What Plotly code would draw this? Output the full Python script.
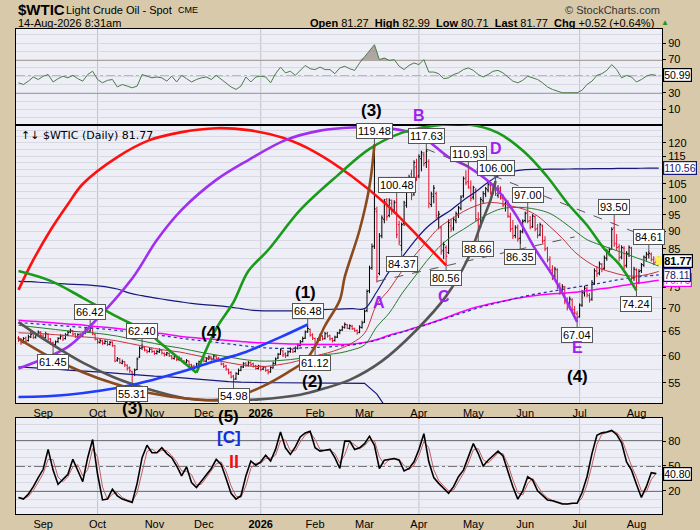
import numpy as np
import pandas as pd
import plotly.graph_objects as go
from plotly.subplots import make_subplots

# 52 weeks of trading days, 18-Aug-2025 .. 14-Aug-2026
days = pd.bdate_range("2025-08-18", "2026-08-14")
week_starts = days[::5]

# daily bars, one row per week (Mon..Fri)
opens = [
    63.6, 63.3, 62.7, 63.6, 63.1,   # Aug 18
    63.8, 64.5, 63.8, 64.3, 64.9,   # Aug 25
    64.0, 63.7, 64.4, 63.4, 62.6,   # Sep 1
    62.3, 62.9, 63.6, 64.1, 63.5,   # Sep 8
    64.3, 64.9, 65.1, 64.5, 63.8,   # Sep 15
    64.4, 64.0, 64.6, 65.4, 65.1,   # Sep 22
    65.6, 64.4, 63.3, 62.7, 63.0,   # Sep 29
    62.5, 62.9, 62.3, 62.8, 62.0,   # Oct 6
    59.2, 59.4, 58.6, 58.9, 58.2,   # Oct 13
    57.8, 57.0, 56.5, 57.4, 59.8,   # Oct 20
    61.6, 61.7, 61.1, 60.9, 61.4,   # Oct 27
    60.9, 60.5, 60.8, 61.1, 60.5,   # Nov 3
    60.3, 60.5, 60.0, 59.5, 59.8,   # Nov 10
    59.3, 59.5, 59.0, 58.8, 59.0,   # Nov 17
    58.3, 58.1, 57.9, 58.4, 58.8,   # Nov 24
    59.4, 59.0, 59.4, 59.8, 59.4,   # Dec 1
    60.0, 59.6, 59.2, 58.5, 58.1,   # Dec 8
    57.4, 56.9, 56.2, 55.7, 56.6,   # Dec 15
    57.3, 57.9, 58.6, 58.2, 58.8,   # Dec 22
    58.5, 58.1, 57.6, 58.0, 57.5,   # Dec 29
    57.8, 57.3, 57.0, 57.7, 58.5,   # Jan 5
    59.6, 60.4, 61.0, 60.4, 60.1,   # Jan 12
    60.9, 61.3, 60.9, 61.5, 62.1,   # Jan 19
    62.9, 63.6, 65.0, 65.4, 64.3,   # Jan 26
    63.5, 62.5, 63.2, 64.0, 63.5,   # Feb 2
    64.6, 64.1, 63.5, 63.1, 63.8,   # Feb 9
    64.7, 65.3, 65.8, 66.4, 65.6,   # Feb 16
    66.1, 65.5, 65.2, 64.8, 65.8,   # Feb 23
    67.0, 69.6, 74.2, 80.0, 85.8,   # Mar 2
    96.0, 78.5, 88.8, 93.6, 99.8,   # Mar 9
    94.8, 98.6, 96.4, 99.0, 92.0,   # Mar 16
    86.0, 92.4, 98.0, 103.2, 108.5,  # Mar 23
    101.6, 111.0, 107.8, 114.0, 115.4,  # Mar 30
    112.6, 113.0, 98.2, 100.8, 101.8,  # Apr 6
    94.2, 91.0, 84.6, 85.4, 84.0,   # Apr 13
    91.6, 91.0, 93.2, 95.0, 97.0,   # Apr 20
    101.0, 107.0, 105.8, 103.6, 100.6,  # Apr 27
    103.0, 93.4, 91.6, 99.4, 101.6,  # May 4
    103.0, 104.4, 102.4, 104.8, 101.2,  # May 11
    103.6, 100.2, 98.4, 99.0, 94.4,  # May 18
    90.8, 88.8, 91.0, 88.0, 90.0,   # May 25
    93.2, 95.6, 93.2, 91.4, 94.4,   # Jun 1
    90.8, 89.0, 91.6, 87.4, 85.2,   # Jun 8
    82.2, 79.4, 77.8, 79.4, 75.4,   # Jun 15
    74.0, 75.0, 71.8, 70.4, 72.0,   # Jun 22
    69.8, 68.8, 68.2, 70.8, 73.6,   # Jun 29
    74.6, 73.0, 72.2, 76.0, 79.0,   # Jul 6
    78.6, 80.8, 79.8, 82.4, 84.2,   # Jul 13
    85.0, 91.0, 86.4, 85.6, 82.8,   # Jul 20
    85.2, 80.6, 83.6, 85.2, 77.4,   # Jul 27
    79.4, 76.2, 79.2, 80.6, 82.6,   # Aug 3
    83.4, 83.6, 82.2, 81.4, 81.27,  # Aug 10
]
highs = [
    64.0, 63.6, 63.8, 63.9, 64.3,
    64.9, 64.7, 64.5, 65.2, 65.0,
    64.4, 64.9, 64.6, 63.6, 62.9,
    63.1, 63.8, 64.4, 64.3, 64.6,
    65.2, 65.6, 65.3, 64.7, 64.6,
    64.7, 64.9, 65.7, 65.6, 66.42,
    65.8, 64.6, 63.5, 63.4, 63.2,
    63.3, 63.1, 63.0, 62.9, 62.2,
    59.8, 59.6, 59.3, 59.0, 58.4,
    58.0, 57.2, 57.6, 59.7, 61.9,
    62.40, 61.9, 61.3, 61.6, 61.5,
    61.1, 61.2, 61.5, 61.2, 60.7,
    60.8, 60.7, 60.2, 60.1, 59.9,
    59.9, 59.7, 59.2, 59.4, 59.1,
    58.5, 58.3, 58.7, 59.1, 59.5,
    59.6, 59.8, 60.1, 59.9, 60.3,
    60.2, 59.8, 59.3, 58.7, 58.3,
    57.6, 57.1, 56.4, 56.9, 57.6,
    58.1, 58.8, 58.8, 59.0, 58.9,
    58.7, 58.3, 58.3, 58.2, 58.1,
    58.0, 57.5, 58.0, 58.9, 59.7,
    60.6, 61.5, 61.2, 60.7, 61.1,
    61.7, 61.5, 61.9, 62.5, 63.2,
    63.9, 65.2, 66.48, 65.6, 64.6,
    63.7, 63.6, 64.5, 64.2, 64.9,
    64.9, 64.3, 63.7, 64.1, 64.9,
    65.5, 66.2, 66.9, 66.6, 66.5,
    66.4, 65.8, 65.4, 66.3, 67.3,
    69.8, 74.5, 80.5, 86.5, 119.48,
    97.5, 89.5, 94.8, 100.0, 100.3,
    100.2, 99.8, 99.6, 100.48, 93.2,
    92.6, 99.4, 103.6, 108.2, 110.0,
    113.4, 114.0, 115.6, 117.0, 116.6,
    117.63, 113.8, 102.4, 104.6, 102.4,
    96.2, 91.6, 87.0, 86.0, 93.6,
    93.8, 94.4, 96.0, 97.8, 101.2,
    107.6, 109.8, 110.93, 106.2, 104.4,
    103.6, 95.8, 100.6, 102.6, 104.0,
    105.6, 105.4, 105.2, 106.00, 104.6,
    104.2, 101.6, 100.2, 99.6, 95.6,
    93.4, 91.8, 92.0, 90.4, 93.6,
    96.0, 97.00, 94.6, 95.2, 94.8,
    92.2, 92.6, 92.0, 88.6, 85.6,
    83.0, 80.6, 80.2, 79.8, 76.2,
    75.8, 75.4, 72.6, 72.8, 72.4,
    70.6, 69.4, 71.2, 74.4, 75.4,
    75.2, 73.6, 76.8, 79.8, 80.4,
    81.6, 81.2, 83.2, 85.0, 85.4,
    91.2, 93.50, 89.2, 86.4, 86.0,
    85.8, 84.4, 86.0, 85.6, 80.2,
    79.8, 79.6, 81.2, 83.2, 84.2,
    84.61, 84.0, 83.0, 82.4, 82.99,
]
lows = [
    62.8, 62.2, 62.5, 62.6, 62.9,
    63.6, 63.4, 63.5, 64.0, 63.8,
    63.2, 63.5, 63.1, 62.2, 61.45,
    62.0, 62.6, 63.3, 63.0, 63.3,
    64.0, 64.6, 64.1, 63.6, 63.5,
    63.7, 63.8, 64.4, 64.7, 64.9,
    64.2, 63.1, 62.4, 62.5, 62.2,
    62.3, 62.0, 62.1, 61.8, 58.8,
    58.9, 58.5, 58.4, 57.9, 57.2,
    56.8, 55.31, 56.2, 57.3, 59.6,
    61.2, 60.9, 60.5, 60.7, 60.6,
    60.2, 60.3, 60.6, 60.3, 59.9,
    60.0, 59.8, 59.3, 59.3, 59.0,
    59.0, 58.8, 58.4, 58.6, 58.0,
    57.7, 57.3, 57.7, 58.3, 58.6,
    58.8, 58.8, 59.2, 59.1, 59.2,
    59.3, 58.9, 58.2, 57.7, 57.2,
    56.5, 55.8, 54.98, 55.5, 56.4,
    57.1, 57.7, 57.9, 58.0, 58.1,
    57.8, 57.4, 57.4, 57.1, 57.3,
    57.0, 56.5, 56.8, 57.6, 58.3,
    59.4, 60.2, 59.8, 59.6, 59.9,
    60.6, 60.6, 60.7, 61.3, 61.9,
    62.7, 63.4, 64.7, 63.9, 63.2,
    61.12, 62.2, 63.0, 63.1, 63.3,
    63.7, 63.1, 62.7, 62.9, 63.6,
    64.4, 65.1, 65.6, 65.5, 65.4,
    65.3, 64.9, 64.3, 64.6, 65.6,
    66.8, 69.2, 73.6, 79.4, 85.0,
    76.2, 78.0, 88.0, 92.4, 93.2,
    94.2, 95.0, 95.4, 88.0, 86.0,
    84.37, 91.6, 97.2, 102.4, 99.6,
    101.0, 106.0, 107.0, 109.4, 111.2,
    110.6, 97.0, 97.4, 98.6, 93.8,
    90.6, 83.4, 82.2, 80.56, 83.6,
    89.8, 90.2, 92.4, 94.0, 96.4,
    100.4, 104.6, 103.4, 99.2, 99.8,
    93.0, 88.66, 91.0, 98.6, 100.6,
    102.2, 101.4, 101.6, 101.0, 100.4,
    99.8, 97.4, 96.0, 94.0, 89.8,
    87.8, 88.0, 87.0, 86.35, 89.4,
    92.6, 92.4, 90.6, 91.0, 90.0,
    88.0, 88.6, 86.6, 84.4, 81.4,
    78.6, 76.8, 77.2, 74.6, 73.2,
    73.4, 71.0, 69.6, 69.8, 69.0,
    68.4, 67.04, 68.0, 70.4, 72.8,
    72.6, 71.4, 71.8, 75.6, 77.6,
    78.0, 78.8, 79.4, 81.8, 83.0,
    84.8, 85.6, 84.6, 81.6, 82.2,
    79.6, 80.0, 82.8, 76.4, 76.6,
    74.24, 75.8, 78.6, 80.2, 81.8,
    82.4, 81.6, 80.6, 80.8, 80.71,
]
closes = [
    63.2, 62.6, 63.5, 63.0, 63.9,
    64.4, 63.7, 64.2, 64.8, 64.1,
    63.6, 64.5, 63.4, 62.5, 62.2,
    62.8, 63.5, 64.0, 63.4, 64.2,
    64.8, 65.2, 64.4, 63.9, 64.3,
    64.0, 64.6, 65.3, 65.0, 65.8,
    64.5, 63.4, 62.8, 63.1, 62.6,
    62.9, 62.3, 62.7, 62.1, 59.0,
    59.5, 58.7, 58.9, 58.3, 57.6,
    57.2, 56.6, 57.3, 59.4, 61.5,
    61.8, 61.2, 60.8, 61.3, 60.9,
    60.5, 60.9, 61.2, 60.6, 60.2,
    60.6, 60.1, 59.6, 59.9, 59.3,
    59.6, 59.0, 58.7, 59.1, 58.3,
    58.0, 57.8, 58.5, 58.9, 59.3,
    59.0, 59.5, 59.8, 59.4, 60.0,
    59.5, 59.1, 58.4, 58.0, 57.5,
    56.8, 56.0, 55.6, 56.7, 57.2,
    57.9, 58.5, 58.2, 58.7, 58.3,
    58.0, 57.6, 58.1, 57.4, 57.9,
    57.2, 56.9, 57.8, 58.6, 59.4,
    60.3, 61.2, 60.2, 60.0, 60.8,
    61.4, 60.8, 61.6, 62.2, 62.8,
    63.5, 64.8, 65.6, 64.2, 63.6,
    62.4, 63.3, 64.1, 63.4, 64.5,
    64.0, 63.4, 63.0, 63.8, 64.6,
    65.2, 65.9, 66.5, 65.7, 66.2,
    65.6, 65.1, 64.7, 65.9, 66.8,
    69.4, 74.0, 79.8, 85.6, 96.8,
    77.6, 88.6, 94.0, 99.2, 94.4,
    99.6, 96.0, 98.8, 89.0, 87.0,
    92.0, 98.8, 102.8, 107.4, 101.0,
    112.6, 107.4, 114.8, 116.2, 112.2,
    116.8, 98.6, 101.6, 103.6, 94.8,
    95.2, 84.2, 86.2, 83.0, 92.6,
    90.6, 93.6, 95.4, 97.2, 100.6,
    106.8, 105.4, 104.0, 100.2, 103.8,
    93.8, 91.0, 99.8, 101.8, 103.4,
    104.8, 102.0, 104.6, 101.8, 103.2,
    100.4, 98.0, 99.4, 94.6, 90.6,
    88.6, 91.2, 87.8, 89.8, 93.0,
    95.4, 93.0, 91.2, 94.6, 90.6,
    88.8, 92.0, 87.2, 85.0, 82.0,
    79.2, 77.6, 79.6, 75.2, 73.8,
    75.2, 71.6, 70.2, 72.2, 69.6,
    69.0, 68.0, 70.8, 73.8, 74.8,
    73.2, 72.0, 76.2, 79.2, 78.4,
    81.0, 79.6, 82.6, 84.4, 84.8,
    90.6, 86.6, 85.4, 82.6, 85.4,
    80.4, 83.8, 85.4, 77.2, 79.6,
    76.0, 79.0, 80.8, 82.8, 83.6,
    83.8, 82.0, 81.2, 81.25, 81.77,
]

# overlays read once a week (each Monday) plus the last day
magenta_ma = [67.4, 67.2, 67.0, 66.8, 66.6, 66.4, 66.1, 65.9, 65.6, 65.3,
              65.0, 64.7, 64.4, 64.0, 63.7, 63.5, 63.3, 63.1, 62.9, 62.7,
              62.6, 62.5, 62.4, 62.3, 62.3, 62.3, 62.3, 62.4, 62.7, 63.3,
              64.2, 64.9, 65.7, 66.5, 67.4, 68.4, 69.4, 70.3, 71.0, 71.6,
              72.2, 72.7, 73.1, 73.4, 73.6, 73.8, 74.2, 74.6, 75.0, 75.5,
              76.0, 76.4, 76.76]
dotted_ma = [66.9, 66.7, 66.5, 66.3, 66.1, 65.9, 65.7, 65.5, 65.2, 64.9,
             64.6, 64.3, 64.0, 63.6, 63.3, 63.0, 62.7, 62.4, 62.1, 61.8,
             61.6, 61.5, 61.5, 61.6, 61.7, 61.8, 62.0, 62.2, 62.6, 63.2,
             64.0, 64.8, 65.6, 66.4, 67.3, 68.2, 69.1, 70.0, 70.8, 71.5,
             72.2, 72.9, 73.5, 74.0, 74.5, 75.0, 75.5, 76.0, 76.6, 77.1,
             77.6, 77.9, 78.11]
red_ma = [64.7, 64.6, 64.5, 64.3, 64.1, 63.9, 63.7, 63.4, 63.0, 62.5,
          62.0, 61.5, 61.1, 60.8, 60.3, 59.8, 59.2, 58.7, 58.3, 58.0,
          58.0, 58.3, 58.7, 59.3, 60.0, 60.6, 61.4, 62.6, 64.6, 71.0,
          74.5, 79.0, 83.0, 87.0, 91.0, 93.6, 96.0, 97.8, 98.8, 98.6,
          97.6, 96.6, 94.6, 91.4, 88.0, 84.2, 81.6, 79.8, 78.8, 78.0,
          77.8, 78.3, 79.0]
green_ma = [66.3, 66.0, 65.7, 65.4, 65.1, 64.9, 64.7, 64.4, 64.0, 63.5,
            63.0, 62.5, 62.0, 61.6, 61.1, 60.6, 60.2, 59.8, 59.4, 59.1,
            59.0, 59.1, 59.3, 59.6, 60.0, 60.3, 60.6, 61.2, 62.2, 66.0,
            69.0, 73.4, 77.4, 81.6, 85.4, 88.4, 90.6, 93.0, 95.2, 96.8,
            97.3, 97.2, 96.6, 95.4, 93.0, 90.2, 87.6, 86.2, 85.0, 83.8,
            82.6, 81.4, 80.4]
upper_band = [76.5, 76.4, 76.2, 76.0, 75.8, 75.7, 75.5, 75.2, 74.6, 73.6,
              73.0, 72.5, 72.0, 71.6, 71.2, 70.9, 70.7, 70.4, 70.0, 69.6,
              69.5, 69.5, 69.5, 69.6, 69.7, 69.8, 69.9, 70.0, 70.0, 74.0,
              79.0, 82.6, 87.0, 91.0, 94.0, 96.5, 99.6, 102.4, 105.6, 108.2,
              109.4, 110.0, 110.1, 110.2, 110.2, 110.3, 110.3, 110.4, 110.4, 110.5,
              110.5, 110.56, 110.56]
lower_band = [57.9, 57.8, 57.6, 57.5, 57.3, 57.2, 57.0, 56.9, 56.7, 56.5,
              56.4, 56.2, 56.1, 55.9, 55.7, 55.5, 55.4, 55.2, 55.1, 55.0,
              55.0, 55.0, 55.0, 55.0, 55.0, 55.0, 55.0, 55.0, 54.9, 53.0,
              50.0, 47.0]

# RSI and stochastic, read every second trading day
rsi = [42, 40, 44, 49, 46, 50, 52, 43, 47, 50,
       48, 51, 47, 44, 52, 56, 46, 42, 45, 46,
       37, 40, 38, 36, 38, 52, 50, 48, 49, 48,
       44, 50, 43, 51, 47, 43, 46, 48, 49, 46,
       51, 46, 41, 37, 34, 38, 49, 43, 49, 50,
       49, 42, 53, 61, 54, 56, 51, 57, 63, 59,
       58, 61, 58, 58, 53, 60, 62, 59, 57, 66,
       73, 80, 88, 70, 72, 69, 70, 62, 58, 63,
       66, 64, 70, 55, 55, 53, 47, 48, 52, 54,
       58, 60, 57, 52, 49, 52, 56, 57, 54, 49,
       44, 42, 45, 50, 48, 46, 42, 37, 34, 32,
       30, 30, 30, 30, 33, 40, 44, 51, 53, 57,
       64, 58, 48, 51, 49, 43, 46, 50, 52, 50.99]
stoch = [12, 10, 16, 25, 36, 46, 70, 45, 28, 34,
         40, 58, 45, 31, 60, 82, 40, 9, 10, 22,
         14, 10, 8, 6, 29, 60, 75, 66, 66, 72,
         65, 60, 50, 38, 49, 30, 24, 32, 40, 47,
         58, 52, 35, 17, 10, 14, 38, 56, 51, 55,
         63, 56, 70, 91, 72, 64, 73, 85, 90, 92,
         72, 68, 69, 70, 60, 47, 80, 80, 70, 72,
         77, 86, 75, 47, 57, 58, 59, 57, 44, 47,
         55, 70, 89, 55, 36, 29, 23, 17, 25, 37,
         45, 62, 77, 65, 50, 57, 63, 68, 62, 42,
         25, 10, 20, 37, 33, 20, 14, 9, 8, 6,
         4, 4, 5, 5, 18, 37, 65, 87, 90, 91,
         93, 88, 78, 55, 45, 28, 12, 25, 42, 40.80]

# hand-drawn arcs and trend lines (date, price)
red_arc_dates = ["2025-08-18", "2025-08-26", "2025-09-04", "2025-09-15", "2025-09-23",
                 "2025-10-13", "2025-10-30", "2025-11-18", "2025-12-08", "2025-12-25",
                 "2026-01-14", "2026-02-02", "2026-02-23", "2026-03-13", "2026-04-01",
                 "2026-04-16"]
red_arc_vals = [74.4, 82.0, 90.4, 98.3, 105.0, 114.6, 121.1, 124.3, 125.9, 125.1,
                122.0, 116.5, 107.6, 98.1, 88.3, 80.56]
purple_arc_dates = ["2025-08-18", "2025-09-15", "2025-09-26", "2025-10-21", "2025-11-04",
                    "2025-11-18", "2025-12-08", "2025-12-25", "2026-01-15", "2026-02-04",
                    "2026-02-23", "2026-03-13", "2026-04-01", "2026-04-17", "2026-04-29",
                    "2026-05-14", "2026-05-26", "2026-06-05", "2026-06-17", "2026-06-30"]
purple_arc_vals = [57.6, 61.8, 66.1, 77.2, 87.5, 96.5, 106.4, 113.5, 121.1, 124.9,
                   126.2, 125.9, 123.1, 114.6, 111.0, 103.7, 95.2, 85.0, 77.0, 67.04]
green_down_dates = ["2025-08-18", "2025-09-04", "2025-09-23", "2025-10-10", "2025-10-30",
                    "2025-11-04", "2025-11-18", "2025-11-26"]
green_down_vals = [79.1, 76.6, 72.5, 68.4, 64.6, 63.2, 59.1, 56.8]
green_arc_dates = ["2025-11-26", "2025-12-08", "2025-12-17", "2025-12-25", "2026-01-06",
                   "2026-01-23", "2026-02-13", "2026-03-04", "2026-03-23", "2026-04-10",
                   "2026-04-29", "2026-05-15", "2026-06-01", "2026-06-12", "2026-06-24",
                   "2026-07-06", "2026-07-15", "2026-07-23", "2026-08-03"]
green_arc_vals = [56.8, 65.6, 71.5, 79.1, 84.7, 96.5, 107.9, 117.7, 124.0, 127.0,
                  127.4, 124.0, 116.2, 107.4, 98.7, 91.8, 85.0, 80.9, 74.24]
gray_arc_dates = ["2025-08-18", "2025-09-03", "2025-09-23", "2025-10-10", "2025-10-30",
                  "2025-11-19", "2025-12-08", "2025-12-31", "2026-01-23", "2026-02-05",
                  "2026-02-20", "2026-03-11", "2026-03-31", "2026-04-16", "2026-04-29",
                  "2026-05-06", "2026-05-12", "2026-05-14"]
gray_arc_vals = [67.0, 62.8, 58.7, 55.9, 53.8, 52.3, 51.9, 52.1, 52.9, 53.9,
                 55.5, 59.0, 65.3, 72.9, 82.6, 91.9, 99.7, 106.0]
brown_arc_dates = ["2025-08-18", "2025-09-03", "2025-09-23", "2025-10-10", "2025-10-30",
                   "2025-11-21", "2025-12-05", "2025-12-18", "2026-01-02", "2026-01-16",
                   "2026-01-27", "2026-02-02", "2026-02-06", "2026-02-16", "2026-02-18",
                   "2026-02-26", "2026-03-04", "2026-03-06"]
brown_arc_vals = [63.5, 60.0, 56.9, 54.8, 53.2, 52.2, 52.0, 52.5, 54.4, 56.9,
                  59.1, 61.9, 66.2, 72.0, 77.6, 90.4, 104.2, 119.48]
blue_arc_dates = ["2025-08-18", "2025-09-15", "2025-10-21", "2025-11-18", "2025-12-04",
                  "2025-12-24", "2026-01-13", "2026-01-28"]
blue_arc_vals = [52.5, 52.9, 54.6, 57.0, 58.8, 60.8, 63.8, 66.48]
trend1_dates = ["2026-04-06", "2026-08-05"]
trend1_vals = [117.63, 89.0]
trend2_dates = ["2026-03-09", "2026-06-29"]
trend2_vals = [76.5, 88.4]

# swing labels
high_label_dates = ["2025-09-26", "2025-10-27", "2026-01-28", "2026-03-06", "2026-03-19",
                    "2026-04-06", "2026-04-29", "2026-05-14", "2026-06-02", "2026-07-21",
                    "2026-08-10"]
low_label_dates = ["2025-09-05", "2025-10-21", "2025-12-17", "2026-02-02", "2026-03-23",
                   "2026-04-16", "2026-05-05", "2026-05-28", "2026-06-30", "2026-08-03"]

# wave counts: (text, date, value, panel, colour, size); value None = panel edge
wave_labels = [
    ("(3)", "2026-03-05", 8.0, "rsi", "black", 17),
    ("B", "2026-04-01", 2.5, "rsi", "#a020f0", 16),
    ("D", "2026-05-14", 118.0, "price", "#a020f0", 16),
    ("A", "2026-03-10", 71.5, "price", "#a020f0", 16),
    ("C", "2026-04-15", 72.7, "price", "#a020f0", 16),
    ("E", "2026-06-30", 61.6, "price", "#a020f0", 16),
    ("(4)", "2026-06-30", 56.1, "price", "black", 17),
    ("(1)", "2026-01-27", 73.8, "price", "black", 17),
    ("(2)", "2026-01-30", 55.2, "price", "black", 17),
    ("(4)", "2025-12-04", 64.7, "price", "black", 17),
    ("(3)", "2025-10-21", None, "price_below", "black", 17),
    ("(5)", "2025-12-15", None, "stoch_above", "black", 17),
    ("[C]", "2025-12-15", 84.8, "stoch", "#1030e0", 17),
    ("II", "2025-12-17", 54.6, "stoch", "#ee1111", 18),
]

assert len(opens) == len(highs) == len(lows) == len(closes) == len(days)

TAN = "#d8c9aa"
PANEL = "#eeeef7"
GRID = "#d9d9e3"
FONT = "Liberation Sans"
NARROW = "Liberation Sans Narrow, Liberation Sans"
NAVY = "#16187a"

ma_dates = list(week_starts) + [days[-1]]
osc_dates = days[::2]
x_range = ["2025-08-15", "2026-08-17 08:00"]

# row 1 = RSI, row 2 = price, row 3 = stochastic
fig = make_subplots(rows=3, cols=1, shared_xaxes=True, vertical_spacing=0)
P = dict(row=2, col=1)

fig.add_trace(go.Scatter(x=list(week_starts[:len(lower_band)]), y=lower_band, mode="lines",
                         line=dict(color=NAVY, width=1.2)), **P)
fig.add_trace(go.Scatter(x=ma_dates, y=upper_band, mode="lines",
                         line=dict(color=NAVY, width=1.2, shape="spline")), **P)
fig.add_trace(go.Scatter(x=ma_dates, y=magenta_ma, mode="lines",
                         line=dict(color="#ff00ff", width=1.5, shape="spline")), **P)
fig.add_trace(go.Scatter(x=ma_dates, y=dotted_ma, mode="lines",
                         line=dict(color="#2233aa", width=1.2, dash="dot", shape="spline")), **P)
fig.add_trace(go.Scatter(x=ma_dates, y=green_ma, mode="lines",
                         line=dict(color="#2a7a2a", width=1, shape="spline")), **P)
fig.add_trace(go.Scatter(x=ma_dates, y=red_ma, mode="lines",
                         line=dict(color="#c8323c", width=1, shape="spline")), **P)

# highlight of the last bar
fig.add_trace(go.Scatter(x=[days[-1], days[-1]], y=[lows[-1], highs[-1]], mode="lines",
                         line=dict(color="#ffee55", width=6)), **P)

fig.add_trace(go.Ohlc(x=days, open=opens, high=highs, low=lows, close=closes,
                      increasing_line_color="black", decreasing_line_color="#e0102e",
                      line_width=1, tickwidth=0.5), **P)

arc_styles = [
    (red_arc_dates, red_arc_vals, "#ff1010"),
    (purple_arc_dates, purple_arc_vals, "#a02ff0"),
    (green_down_dates, green_down_vals, "#1a9a1a"),
    (green_arc_dates, green_arc_vals, "#1a9a1a"),
    (gray_arc_dates, gray_arc_vals, "#555555"),
    (brown_arc_dates, brown_arc_vals, "#8b4a1c"),
    (blue_arc_dates, blue_arc_vals, "#1f3cff"),
]
for d, v, c in arc_styles:
    fig.add_trace(go.Scatter(x=d, y=v, mode="lines",
                             line=dict(color=c, width=2.6, shape="spline")), **P)
for d, v in [(trend1_dates, trend1_vals), (trend2_dates, trend2_vals)]:
    fig.add_trace(go.Scatter(x=d, y=v, mode="lines",
                             line=dict(color="#555555", width=1, dash="dash")), **P)

# RSI panel
rsi_arr = np.array(rsi, dtype=float)
fig.add_trace(go.Scatter(x=osc_dates, y=[70] * len(rsi), mode="lines", line=dict(width=0)),
              row=1, col=1)
fig.add_trace(go.Scatter(x=osc_dates, y=np.maximum(rsi_arr, 70), mode="lines", line=dict(width=0),
                         fill="tonexty", fillcolor="rgba(130,118,104,0.6)"), row=1, col=1)
fig.add_trace(go.Scatter(x=osc_dates, y=rsi, mode="lines", line=dict(color="#4a7c47", width=1)),
              row=1, col=1)

# stochastic panel
stoch_d = pd.Series(stoch, dtype=float).rolling(2, min_periods=1).mean()
fig.add_trace(go.Scatter(x=osc_dates, y=stoch_d, mode="lines", line=dict(color="#c06060", width=1)),
              row=3, col=1)
fig.add_trace(go.Scatter(x=osc_dates, y=stoch, mode="lines", line=dict(color="black", width=1.6)),
              row=3, col=1)

# x ticks at the first trading day of each month (skip the partial first/last month)
month_starts = [m for m in days.to_series().groupby([days.year, days.month]).first().tolist()
                if m.day <= 7 and m != days[0]]
month_text = ["<b>2026</b>" if m.month == 1 else m.strftime("%b") for m in month_starts]
quarters = [m for m in month_starts if m.month in (1, 4, 7, 10)]

fig.update_xaxes(type="date", range=x_range, rangebreaks=[dict(bounds=["sat", "mon"])],
                 rangeslider=dict(visible=False), automargin=False,
                 showgrid=False, zeroline=False, showline=True, mirror=True, linecolor="black",
                 linewidth=1, tickmode="array", tickvals=month_starts, ticktext=month_text,
                 ticks="", tickfont=dict(family=FONT, size=11, color="black"))
fig.update_yaxes(side="right", showline=True, mirror=True, linecolor="black", linewidth=1,
                 automargin=False, zeroline=False, ticks="outside", ticklen=3, tickcolor="black",
                 tickfont=dict(family=FONT, size=11, color="black"), gridcolor=GRID, showgrid=True)

price_grid = list(np.arange(52.5, 126, 2.5))
osc_grid = list(range(0, 101, 10))
# 110 and 80 sit under the value boxes, as in the original
price_ticks = [v for v in range(55, 121, 5) if v not in (80, 110)]

fig.update_layout(
    width=700, height=530, paper_bgcolor=TAN, plot_bgcolor=PANEL, showlegend=False,
    margin=dict(l=16, r=38, t=29, b=16, autoexpand=False), hovermode=False,
    font=dict(family=FONT, size=11, color="black"),
    xaxis=dict(showticklabels=False),
    xaxis2=dict(showticklabels=True),
    xaxis3=dict(showticklabels=True),
    yaxis=dict(domain=[0.802, 1.0], range=[-9, 107], tickvals=[10, 30, 70, 90],
               minor=dict(tickmode="array", tickvals=osc_grid, showgrid=True, gridcolor=GRID, ticks="")),
    yaxis2=dict(domain=[0.229, 0.802], type="log", range=[np.log10(51.5), np.log10(127.2)],
                tickvals=price_ticks,
                minor=dict(tickmode="array", tickvals=price_grid, showgrid=True, gridcolor=GRID, ticks="")),
    yaxis3=dict(domain=[0, 0.198], range=[-8, 108], tickvals=[20, 50, 80],
                minor=dict(tickmode="array", tickvals=osc_grid, showgrid=True, gridcolor=GRID, ticks="")),
)

shapes = []
for xr, yr in [("x", "y"), ("x2", "y2"), ("x3", "y3")]:
    for q in quarters:
        shapes.append(dict(type="line", xref=xr, yref=f"{yr} domain", x0=q, x1=q, y0=0, y1=1,
                           line=dict(color="#c2c2c8", width=1), layer="below"))
for lvl, col, dash, w in [(70, "#6e5a44", "solid", 1.5), (30, "#6e5a44", "solid", 1.5),
                          (50, "#444444", "dashdot", 1)]:
    shapes.append(dict(type="line", xref="x domain", yref="y", x0=0, x1=1, y0=lvl, y1=lvl,
                       line=dict(color=col, width=w, dash=dash), layer="below"))
for lvl, dash in [(80, "solid"), (20, "solid"), (50, "dashdot")]:
    shapes.append(dict(type="line", xref="x3 domain", yref="y3", x0=0, x1=1, y0=lvl, y1=lvl,
                       line=dict(color="black", width=1.2, dash=dash), layer="below"))
fig.update_layout(shapes=shapes)

ann = []
pos = {d: i for i, d in enumerate(days.strftime("%Y-%m-%d"))}
box = dict(bgcolor="white", bordercolor="#555555", borderwidth=1, borderpad=1,
           font=dict(family=FONT, size=11, color="black"), showarrow=True, arrowhead=0,
           arrowwidth=1, arrowcolor="#555555", ax=0, xref="x2", yref="y2")
for d in high_label_dates:
    v = highs[pos[d]]
    ann.append(dict(box, x=d, y=np.log10(v), text=f"{v:.2f}", ay=-13))
for d in low_label_dates:
    v = lows[pos[d]]
    ann.append(dict(box, x=d, y=np.log10(v), text=f"{v:.2f}", ay=13))

for text, d, v, panel, col, size in wave_labels:
    a = dict(x=d, text=f"<b>{text}</b>", showarrow=False, font=dict(family=FONT, size=size, color=col))
    if panel == "rsi":
        a.update(xref="x", yref="y", y=v)
    elif panel == "price":
        a.update(xref="x2", yref="y2", y=np.log10(v))
    elif panel == "stoch":
        a.update(xref="x3", yref="y3", y=v)
    elif panel == "price_below":
        a.update(xref="x2", yref="y2 domain", y=0, yanchor="middle", yshift=-6)
    else:
        a.update(xref="x3", yref="y3 domain", y=1, yanchor="middle", yshift=1)
    ann.append(a)

# value boxes just right of the plot edge
right_boxes = [
    (magenta_ma[-1], "y2", "#ff00ff", False),
    (dotted_ma[-1], "y2", NAVY, False),
    (closes[-1], "y2", "black", True),
    (upper_band[-1], "y2", NAVY, False),
    (rsi[-1], "y", "black", False),
    (stoch[-1], "y3", "black", False),
]
for v, yr, col, bold in right_boxes:
    yv = np.log10(v) if yr == "y2" else v
    txt = f"<b>{v:.2f}</b>" if bold else f"{v:.2f}"
    ann.append(dict(x=1, y=yv, xref="paper", yref=yr, xanchor="left", xshift=1, text=txt,
                    showarrow=False, bgcolor="white", bordercolor=col, borderwidth=1.2,
                    borderpad=0, font=dict(family=FONT, size=11 if bold else 10.5,
                                           color="black" if bold else col)))

chg = closes[-1] - closes[-2]
header_right = (f"<b>Open</b> {opens[-1]:.2f}  <b>High</b> {highs[-1]:.2f}  "
                f"<b>Low</b> {lows[-1]:.2f}  <b>Last</b> {closes[-1]:.2f}  "
                f"<b>Chg</b> {chg:+.2f} ({chg / closes[-2] * 100:+.2f}%)")
ann += [
    dict(x=0, y=1.0402, xref="paper", yref="paper", xanchor="left", yanchor="middle",
         text="<b>$WTIC</b>", showarrow=False, font=dict(family=FONT, size=15, color="black")),
    dict(x=0.0745, y=1.0402, xref="paper", yref="paper", xanchor="left", yanchor="middle",
         text="Light Crude Oil - Spot", showarrow=False, font=dict(family=FONT, size=11)),
    dict(x=0.2475, y=1.0402, xref="paper", yref="paper", xanchor="left", yanchor="middle",
         text="CME", showarrow=False, font=dict(family=FONT, size=9)),
    dict(x=0, y=1.0124, xref="paper", yref="paper", xanchor="left", yanchor="middle",
         text="14-Aug-2026 8:31am", showarrow=False, font=dict(family=FONT, size=11)),
    dict(x=1.0, y=1.0402, xref="paper", yref="paper", xanchor="right", yanchor="middle",
         text="© StockCharts.com", showarrow=False, font=dict(family=FONT, size=11, color="#333333")),
    dict(x=0.99, y=1.0124, xref="paper", yref="paper", xanchor="right", yanchor="middle",
         text=header_right, showarrow=False, font=dict(family=NARROW, size=11)),
    dict(x=0.995, y=1.0124, xref="paper", yref="paper", xanchor="left", yanchor="middle",
         text="▲", showarrow=False, font=dict(family=FONT, size=8, color="#1a9a1a")),
    dict(x=0.004, y=0.992, xref="x2 domain", yref="y2 domain", xanchor="left", yanchor="top",
         text=f"↑↓ $WTIC (Daily) {closes[-1]:.2f}", showarrow=False,
         font=dict(family="DejaVu Sans", size=11, color="black")),
]
fig.update_layout(annotations=ann)

# the page's default body margin would push the 700x530 figure off the window
fig.write_html("out.html", config={"displayModeBar": False},
               post_script="document.body.style.margin='0';document.body.style.background='%s';" % TAN)
